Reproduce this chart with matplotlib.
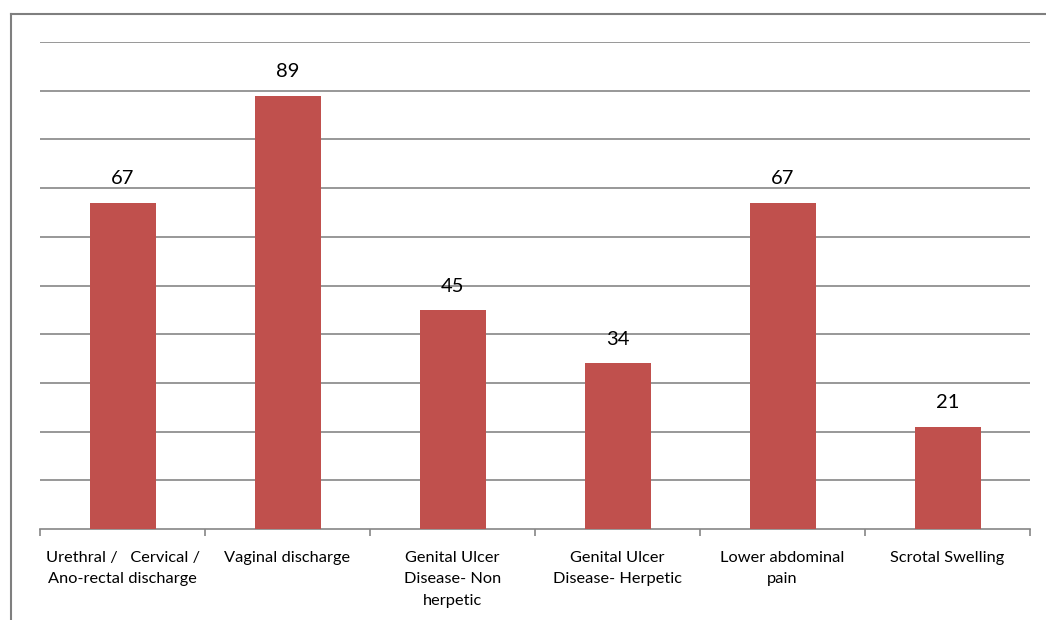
import matplotlib
matplotlib.use("Agg")
import matplotlib.pyplot as plt
from matplotlib.lines import Line2D
import numpy as np

categories = [
    "Urethral /   Cervical /\nAno-rectal discharge",
    "Vaginal discharge",
    "Genital Ulcer\nDisease- Non\nherpetic",
    "Genital Ulcer\nDisease- Herpetic",
    "Lower abdominal\npain",
    "Scrotal Swelling",
]
cases = [67, 89, 45, 34, 67, 21]

plt.rcParams["font.family"] = ["Lato", "DejaVu Sans"]

W, H = 1046, 620
fig = plt.figure(figsize=(W / 100, H / 100), dpi=100)
ax = fig.add_axes([40 / W, 1 - 529 / H, 990 / W, 487 / H])

x = np.arange(len(categories))
bar_color = "#C0504D"
grid_color = "#868686"

ax.bar(x, cases, width=0.4, color=bar_color, zorder=3)
for xi, v in zip(x, cases):
    ax.annotate(str(v), (xi, v), xytext=(0, 11), textcoords="offset points",
                ha="center", va="bottom", fontsize=14.5, color="#000000")

ax.set_xlim(-0.5, len(categories) - 0.5)
ax.set_ylim(0, 100)
ax.set_yticks(np.arange(10, 101, 10))
ax.yaxis.grid(True, color=grid_color, linewidth=1.2, zorder=0)
ax.tick_params(axis="y", left=False, labelleft=False)

ax.set_xticks(x)
ax.set_xticklabels(categories, fontsize=11.8, linespacing=1.72)
ax.tick_params(axis="x", which="major", length=0, pad=15.5)
ax.set_xticks(np.arange(-0.5, len(categories), 1.0), minor=True)
ax.tick_params(axis="x", which="minor", length=5, color=grid_color, width=1.2)

for side in ("top", "right", "left"):
    ax.spines[side].set_visible(False)
ax.spines["bottom"].set_color(grid_color)
ax.spines["bottom"].set_linewidth(1.2)

# outer frame around the chart area
fig.add_artist(Line2D([10.5 / W, 10.5 / W], [0, 1 - 13.5 / H],
                      transform=fig.transFigure, color="#7F7F7F", linewidth=1.5))
fig.add_artist(Line2D([10.5 / W, 1], [1 - 13.5 / H, 1 - 13.5 / H],
                      transform=fig.transFigure, color="#7F7F7F", linewidth=1.5))

fig.savefig("out.png", dpi=100)
